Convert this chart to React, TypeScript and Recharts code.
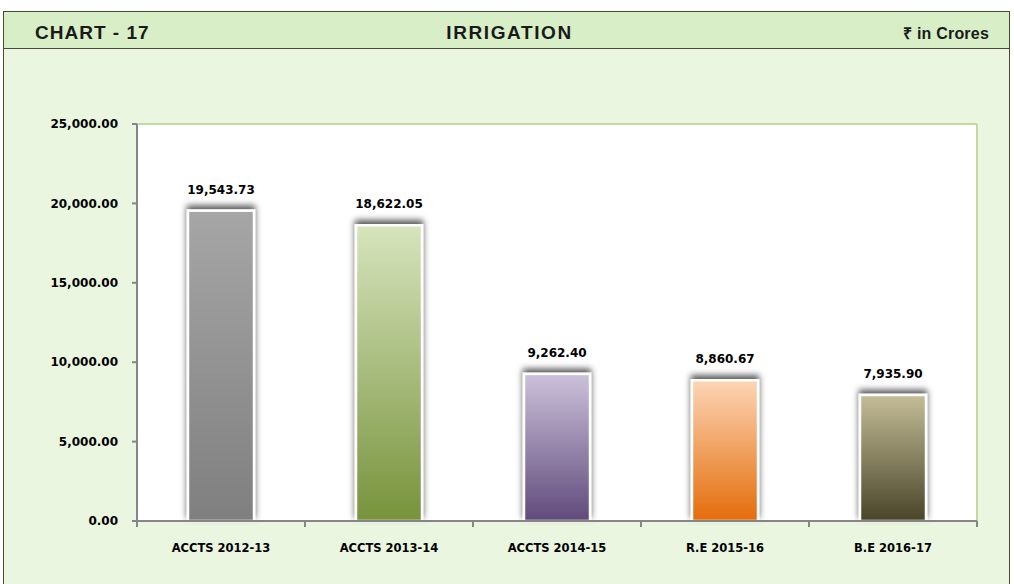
import React from 'react';
import { BarChart, Bar, XAxis, YAxis, CartesianGrid, LabelList, ReferenceLine } from 'recharts';

const categories = ['ACCTS 2012-13', 'ACCTS 2013-14', 'ACCTS 2014-15', 'R.E 2015-16', 'B.E 2016-17'];
const values = [19543.73, 18622.05, 9262.4, 8860.67, 7935.9];
const yTicks = [0, 5000, 10000, 15000, 20000, 25000];
const gradients: [string, string][] = [
  ['#a6a6a6', '#7f7f7f'],
  ['#d7e4bd', '#77933c'],
  ['#ccc1da', '#604a7b'],
  ['#fcd5b5', '#e46c0a'],
  ['#c4bd97', '#494429'],
];

const data = categories.map((name, i) => ({ name, value: values[i] }));

const fmt = (v: number) =>
  Number(v).toLocaleString('en-US', { minimumFractionDigits: 2, maximumFractionDigits: 2 });

const AXIS_GRAY = '#868686';
const BORDER_GREEN = '#c4d9a0';
const TICK_LEN = 5;

const BarShape = (props: any) => {
  const { x, y, width, height, index } = props;
  if (height <= 0) return null;
  return (
    <rect
      x={x}
      y={y}
      width={width}
      height={height}
      fill={`url(#grad${index})`}
      stroke="#ffffff"
      strokeWidth={2.5}
      filter="url(#barShadow)"
    />
  );
};

// short horizontal tick to the left of the value axis, at a reference value
const YTickMark = (props: any) => {
  const { x1, y1 } = props;
  if (x1 == null || y1 == null) return null;
  return <line x1={x1 - TICK_LEN} x2={x1} y1={y1} y2={y1} stroke={AXIS_GRAY} strokeWidth={2} />;
};

// vertical axis line plus a short tick below the baseline
const VLineWithTick = (props: any) => {
  const { x1, y1, x2, y2, stroke } = props;
  if (x1 == null) return null;
  const bottom = Math.max(y1, y2);
  const top = Math.min(y1, y2);
  return (
    <g>
      <line x1={x1} x2={x2} y1={top} y2={bottom} stroke={stroke} strokeWidth={2} />
      <line x1={x1} x2={x1} y1={bottom} y2={bottom + TICK_LEN + 1} stroke={AXIS_GRAY} strokeWidth={2} />
    </g>
  );
};
const BoundaryTick = (props: any) => {
  const { x1, y1, y2 } = props;
  if (x1 == null) return null;
  const bottom = Math.max(y1, y2);
  return <line x1={x1} x2={x1} y1={bottom} y2={bottom + TICK_LEN + 1} stroke={AXIS_GRAY} strokeWidth={2} />;
};

const tickFont = { fontFamily: 'DejaVu Sans', fontWeight: 'bold', fontSize: 12, fill: '#000' };

export default function App() {
  return (
    <div style={{ position: 'absolute', left: 0, top: 0, width: 1014, height: 584, background: '#ffffff', overflow: 'hidden' }}>
      <div
        style={{
          position: 'absolute',
          left: 3,
          top: 11,
          width: 1007,
          height: 580,
          border: '1px solid #4a4a32',
          background: '#ebf6e1',
          boxSizing: 'border-box',
        }}
      >
        <div
          style={{
            position: 'absolute',
            left: 0,
            top: 0,
            right: 0,
            height: 36,
            background: '#d8eec6',
            borderBottom: '1px solid #4a4a32',
            fontFamily: '"Liberation Sans", Arial, sans-serif',
            fontWeight: 'bold',
            fontSize: 19,
            lineHeight: '20px',
            color: '#1a1a1a',
            letterSpacing: 1,
          }}
        >
          <span style={{ position: 'absolute', left: 31, top: 11 }}>CHART - 17</span>
          <span style={{ position: 'absolute', left: 6, right: 0, top: 11, textAlign: 'center', letterSpacing: 1.6 }}>IRRIGATION</span>
          <span style={{ position: 'absolute', right: 20, top: 12, fontSize: 16, letterSpacing: 0.2 }}>₹ in Crores</span>
        </div>
      </div>
      <div style={{ position: 'absolute', left: 0, top: 0 }}>
        <BarChart
          width={1014}
          height={584}
          data={data}
          margin={{ top: 124, right: 37, bottom: 33, left: 57 }}
        >
          <defs>
            {gradients.map((g, i) => (
              <linearGradient key={i} id={`grad${i}`} x1="0" y1="0" x2="0" y2="1">
                <stop offset="0%" stopColor={g[0]} />
                <stop offset="100%" stopColor={g[1]} />
              </linearGradient>
            ))}
            <filter id="barShadow" x="-30%" y="-20%" width="160%" height="140%">
              <feDropShadow dx="0" dy="-4" stdDeviation="3.2" floodColor="#000" floodOpacity="0.65" />
            </filter>
          </defs>
          <CartesianGrid fill="#ffffff" horizontal={false} vertical={false} />
          <XAxis
            dataKey="name"
            type="category"
            height={30}
            axisLine={false}
            tickLine={false}
            tickSize={0}
            tickMargin={23}
            interval={0}
            tick={{ ...tickFont, fontSize: 11.5 }}
          />
          <YAxis
            domain={[0, 25000]}
            ticks={yTicks}
            tickFormatter={fmt}
            width={80}
            axisLine={false}
            tickLine={false}
            tickSize={5}
            tickMargin={14}
            tick={tickFont}
          />
          <ReferenceLine y={25000} stroke={BORDER_GREEN} strokeWidth={2} ifOverflow="visible" />
          <ReferenceLine
            x={categories[categories.length - 1]}
            position="end"
            stroke={BORDER_GREEN}
            ifOverflow="visible"
            shape={<VLineWithTick />}
          />
          {categories.slice(1).map((c) => (
            <ReferenceLine key={c} x={c} position="start" stroke={AXIS_GRAY} ifOverflow="visible" shape={<BoundaryTick />} />
          ))}
          {yTicks.map((v) => (
            <ReferenceLine key={`yt${v}`} y={v} stroke={AXIS_GRAY} ifOverflow="visible" shape={<YTickMark />} />
          ))}
          <Bar dataKey="value" barSize={66} shape={BarShape} isAnimationActive={false}>
            <LabelList dataKey="value" position="top" offset={17} formatter={fmt} style={tickFont} />
          </Bar>
          <ReferenceLine
            x={categories[0]}
            position="start"
            stroke={AXIS_GRAY}
            ifOverflow="visible"
            shape={<VLineWithTick />}
          />
          <ReferenceLine y={0} stroke={AXIS_GRAY} strokeWidth={2} ifOverflow="visible" />
        </BarChart>
      </div>
    </div>
  );
}
